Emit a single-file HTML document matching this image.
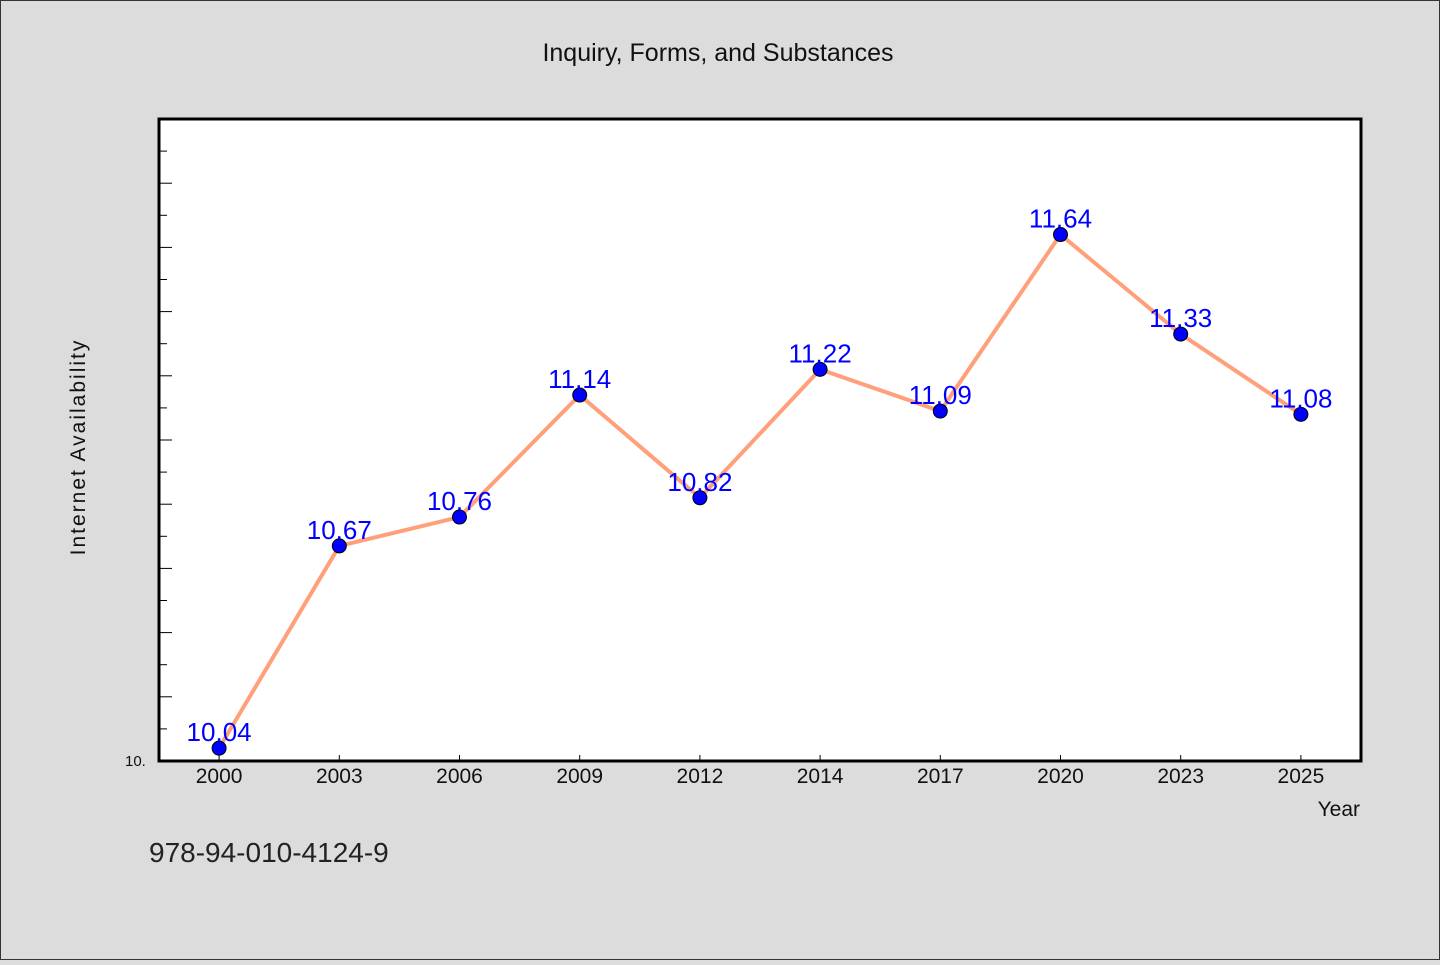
<!DOCTYPE html>
<html><head><meta charset="utf-8"><style>
html,body{margin:0;padding:0;background:#dcdcdc;}
svg text{font-family:"WenQuanYi Zen Hei","Liberation Sans",sans-serif;}
</style></head><body>
<svg width="1440" height="960" xmlns="http://www.w3.org/2000/svg">
<rect x="0.5" y="0.5" width="1439" height="959" fill="#dcdcdc" stroke="#333"/>
<text x="718" y="61" font-size="25" text-anchor="middle" fill="#111">Inquiry, Forms, and Substances</text>
<rect x="159" y="119" width="1202" height="642" fill="#fff" stroke="#000" stroke-width="3"/>
<g id="yticks"></g>
<g id="xticks"></g>
<text x="125" y="766" font-size="15" fill="#111">10.</text>
<text transform="translate(85,447) rotate(-90)" font-size="21" text-anchor="middle" letter-spacing="2" fill="#111">Internet Availability</text>
<text x="1360" y="816" font-size="21" text-anchor="end" fill="#111">Year</text>
<text x="149" y="862" font-size="28" fill="#222">978-94-010-4124-9</text>
<g id="series"></g>
</svg>
<script>
const categories=["2000","2003","2006","2009","2012","2014","2017","2020","2023","2025"];
const values=[10.04,10.67,10.76,11.14,10.82,11.22,11.09,11.64,11.33,11.08];
const yMin=10, yMax=12;
const NS="http://www.w3.org/2000/svg";
const px0=159,pw=1202,py0=119,ph=642;
const step=pw/categories.length;
function xs(i){return px0+step*(i+0.5);}
function ys(v){return py0+ph-(v-yMin)/(yMax-yMin)*ph;}
function mk(tag,attrs,parent){const e=document.createElementNS(NS,tag);for(const k in attrs)e.setAttribute(k,attrs[k]);parent.appendChild(e);return e;}
const yt=document.getElementById('yticks');
for(let k=1;k<20;k++){
  const v=yMin+k*0.1, y=ys(v), len=(k%2===0)?13:8;
  const t=mk('line',{x1:px0,x2:px0+len,y1:y,y2:y,stroke:'#000','stroke-width':1},yt);
  
  
}
const xt=document.getElementById('xticks');
categories.forEach((c,i)=>{
  const x=xs(i);
  const t=mk('line',{x1:x,x2:x,y1:py0+ph,y2:py0+ph-6,stroke:'#000','stroke-width':1},xt);
  
  
  const l=mk('text',{x:x,y:783,'font-size':21,'text-anchor':'middle',fill:'#111'},xt);
  l.textContent=c;
  
  
});
const s=document.getElementById('series');
const pts=values.map((v,i)=>xs(i)+','+ys(v)).join(' ');
const line=mk('polyline',{points:pts,fill:'none',stroke:'#ffa07a','stroke-width':4,'stroke-linejoin':'round'},s);


values.forEach((v,i)=>{
  const c=mk('circle',{cx:xs(i),cy:ys(v),r:7,fill:'#0000ff',stroke:'#000','stroke-width':1},s);
  
  
  const t=mk('text',{x:xs(i),y:ys(v)-7,'font-size':26,'text-anchor':'middle',fill:'#0000ff'},s);
  t.textContent=v.toFixed(2);
  
  
});
</script>
</body></html>
